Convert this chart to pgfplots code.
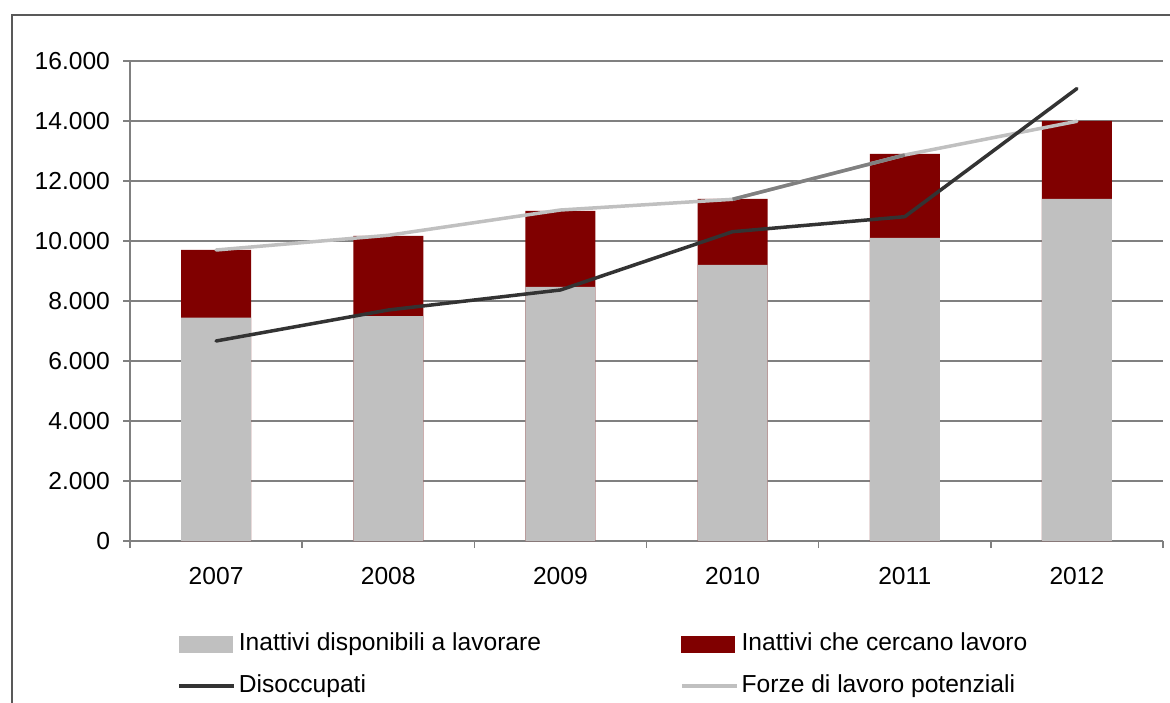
\documentclass[border=0pt]{standalone}
\usepackage{pgfplots}
\pgfplotsset{compat=1.18}
\usepackage{fontspec}
\setmainfont{Liberation Sans}
\definecolor{barg}{HTML}{C0C0C0}
\definecolor{barr}{HTML}{800000}
\definecolor{disoc}{HTML}{333333}
\definecolor{forze}{HTML}{C0C0C0}
\definecolor{forzed}{HTML}{808080}
\definecolor{gridc}{HTML}{808080}
\definecolor{framec}{HTML}{595959}
\begin{document}
\begin{tikzpicture}
\useasboundingbox (0,0) rectangle (585pt,351pt);
\fill[white] (0,0) rectangle (585pt,351pt);
\begin{axis}[
  at={(65pt,80.5pt)}, anchor=south west,
  scale only axis, width=516.5pt, height=240pt,
  font=\fontsize{12.3}{14}\selectfont,
  ybar=0pt, bar width=35pt, bar shift=0pt,
  xmin=-0.5, xmax=5.5, ymin=0, ymax=16000,
  enlargelimits=false,
  axis x line*=bottom, axis y line*=left,
  axis line style={color=gridc, line width=0.75pt},
  xtick={0,...,5},
  xticklabels={2007,2008,2009,2010,2011,2012},
  major x tick style={draw=none},
  minor xtick={-0.5,0.5,...,5.5},
  minor x tick style={color=gridc, line width=0.75pt},
  minor tick length=3.5pt,
  major tick length=3.5pt,
  tick align=outside,
  ytick={0,2000,...,16000},
  y tick style={color=gridc, line width=0.75pt},
  scaled y ticks=false,
  yticklabel style={xshift=-3pt, /pgf/number format/.cd, 1000 sep={.}, assume math mode=true},
  xticklabel style={yshift=-6pt},
  ymajorgrids=true,
  grid style={color=gridc, line width=0.75pt},
  legend columns=2,
  legend cell align=left,
  legend style={at={(axis description cs:0.0455,-0.183)}, anchor=north west,
    draw=none, fill=none, inner sep=0pt,
    font=\fontsize{12.3}{14}\selectfont,
    nodes={text height=9pt, text depth=3pt, inner sep=1.5pt},
    /tikz/every even column/.append style={column sep=68pt},
    row sep=6pt},
]
% legend entries
\addlegendimage{legend image code/.code={\fill[barg] (0pt,-4pt) rectangle (26.5pt,4pt);}}
\addlegendentry{Inattivi disponibili a lavorare}
\addlegendimage{legend image code/.code={\fill[barr] (0pt,-4pt) rectangle (26.5pt,4pt);}}
\addlegendentry{Inattivi che cercano lavoro}
\addlegendimage{legend image code/.code={\draw[disoc, line width=1.75pt] (0pt,0pt) -- (27.5pt,0pt);}}
\addlegendentry{Disoccupati}
\addlegendimage{legend image code/.code={\draw[forze, line width=1.75pt] (0pt,0pt) -- (27.5pt,0pt);}}
\addlegendentry{Forze di lavoro potenziali}
% bars: totals (red part on top) then the grey lower part
\addplot[forget plot, fill=barr, draw=none]
  coordinates {(0,9700) (1,10167) (2,11000) (3,11400) (4,12900) (5,14000)};
\addplot[forget plot, fill=barg, draw=none]
  coordinates {(0,7443) (1,7500) (2,8467) (3,9200) (4,10100) (5,11400)};
% lines
\addplot[forget plot, sharp plot, forze, line width=1.75pt, line join=round, line cap=round, mark=none]
  coordinates {(0,9700) (1,10190) (2,11033) (3,11390) (4,12867) (5,13990)};
\addplot[forget plot, sharp plot, forzed, line width=1.75pt, mark=none]
  coordinates {(3,11390) (4,12867)};
\addplot[forget plot, sharp plot, disoc, line width=1.75pt, line join=round, line cap=round, mark=none]
  coordinates {(0,6667) (1,7700) (2,8367) (3,10310) (4,10810) (5,15080)};
\end{axis}
\draw[framec, line width=0.75pt] (6pt,-20pt) -- (6pt,343.5pt) -- (620pt,343.5pt);
\end{tikzpicture}
\end{document}
